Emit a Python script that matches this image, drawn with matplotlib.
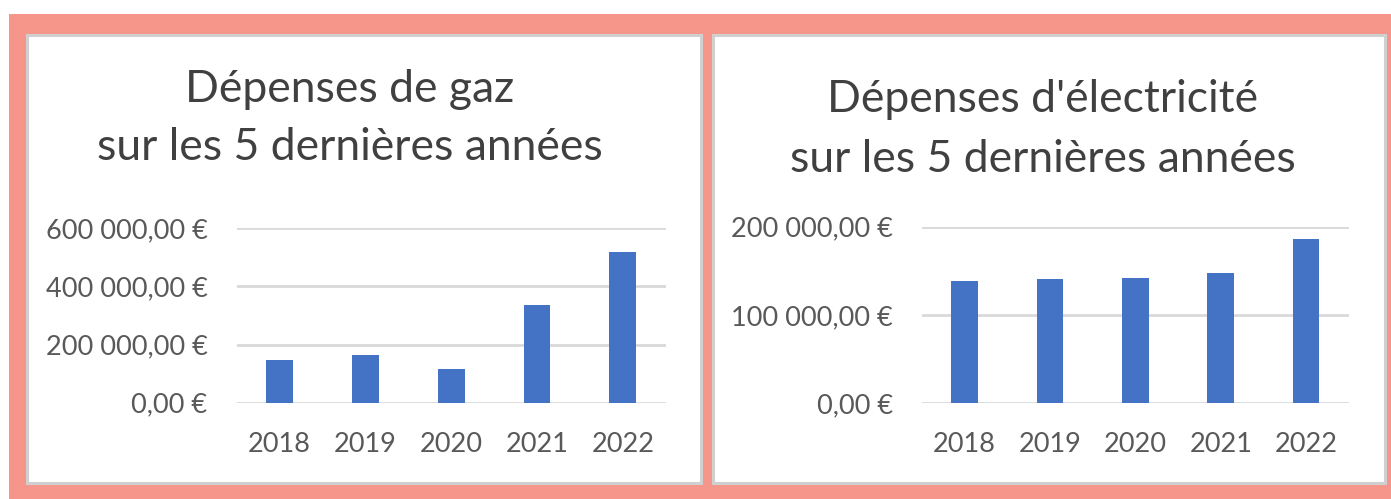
import matplotlib
matplotlib.use("Agg")
import matplotlib.pyplot as plt
from matplotlib.patches import Rectangle
from matplotlib.ticker import FuncFormatter

years = ["2018", "2019", "2020", "2021", "2022"]
gaz = [147000, 163000, 116000, 336000, 518000]
elec = [139000, 141200, 141500, 147600, 185600]

gaz_ticks = [0, 200000, 400000, 600000]
elec_ticks = [0, 100000, 200000]

W, H = 1391, 499
BAR = "#4472C4"
SALMON = "#F6968A"
TXT = "#595959"
TITLE = "#404040"


def euro(v, pos=None):
    s = f"{v:,.2f}".replace(",", " ").replace(".", ",")
    return s + " €"


def fx(px):
    return px / W


def fy(py):
    return 1 - py / H


fig = plt.figure(figsize=(W / 100, H / 100), dpi=100)
fig.patch.set_facecolor("white")

# salmon frame and the two white panels
fig.patches.append(Rectangle((fx(9), 0), fx(1391) - fx(9), fy(14), transform=fig.transFigure,
                             facecolor=SALMON, edgecolor="none", zorder=0))
for x0, x1 in [(27, 701), (713, 1385)]:
    fig.patches.append(Rectangle((fx(x0), fy(483)), fx(x1) - fx(x0), fy(35) - fy(483),
                                 transform=fig.transFigure, facecolor="white",
                                 edgecolor="#D0D0D0", linewidth=2.2, zorder=1))


def draw(rect, vals, ticks, top, lines, cx, baselines):
    ax = fig.add_axes(rect)
    ax.set_zorder(5)
    ax.set_facecolor("none")
    ax.bar(range(len(years)), vals, width=0.313, color=BAR, zorder=3)
    ax.set_xlim(-0.5, len(years) - 0.5)
    ax.set_ylim(0, top)
    ax.set_yticks(ticks)
    ax.yaxis.set_major_formatter(FuncFormatter(euro))
    ax.set_xticks(range(len(years)))
    ax.set_xticklabels(years)
    ax.grid(axis="y", color="#D9D9D9", linewidth=2, zorder=0)
    for sp in ax.spines.values():
        sp.set_visible(False)
    ax.tick_params(length=0, labelsize=19.5, labelcolor=TXT)
    ax.tick_params(axis="y", pad=21)
    ax.tick_params(axis="x", pad=21)
    for lab in ax.get_xticklabels() + ax.get_yticklabels():
        lab.set_fontfamily("Lato")
    for line, b in zip(lines, baselines):
        t = fig.text(fx(cx), fy(b), line, ha="center", va="baseline", fontsize=32,
                     color=TITLE, fontfamily="Lato")
        t.set_zorder(6)
    return ax


draw([fx(236.7), fy(402.7), fx(665.7) - fx(236.7), fy(228.3) - fy(402.7)],
     gaz, gaz_ticks, 600000,
     ["Dépenses de gaz", "sur les 5 dernières années"], 350, [102, 160])
draw([fx(922), fy(403.3), fx(1348.7) - fx(922), fy(226.7) - fy(403.3)],
     elec, elec_ticks, 200000,
     ["Dépenses d'électricité", "sur les 5 dernières années"], 1043, [112, 172])

fig.savefig("out.png", dpi=100)
